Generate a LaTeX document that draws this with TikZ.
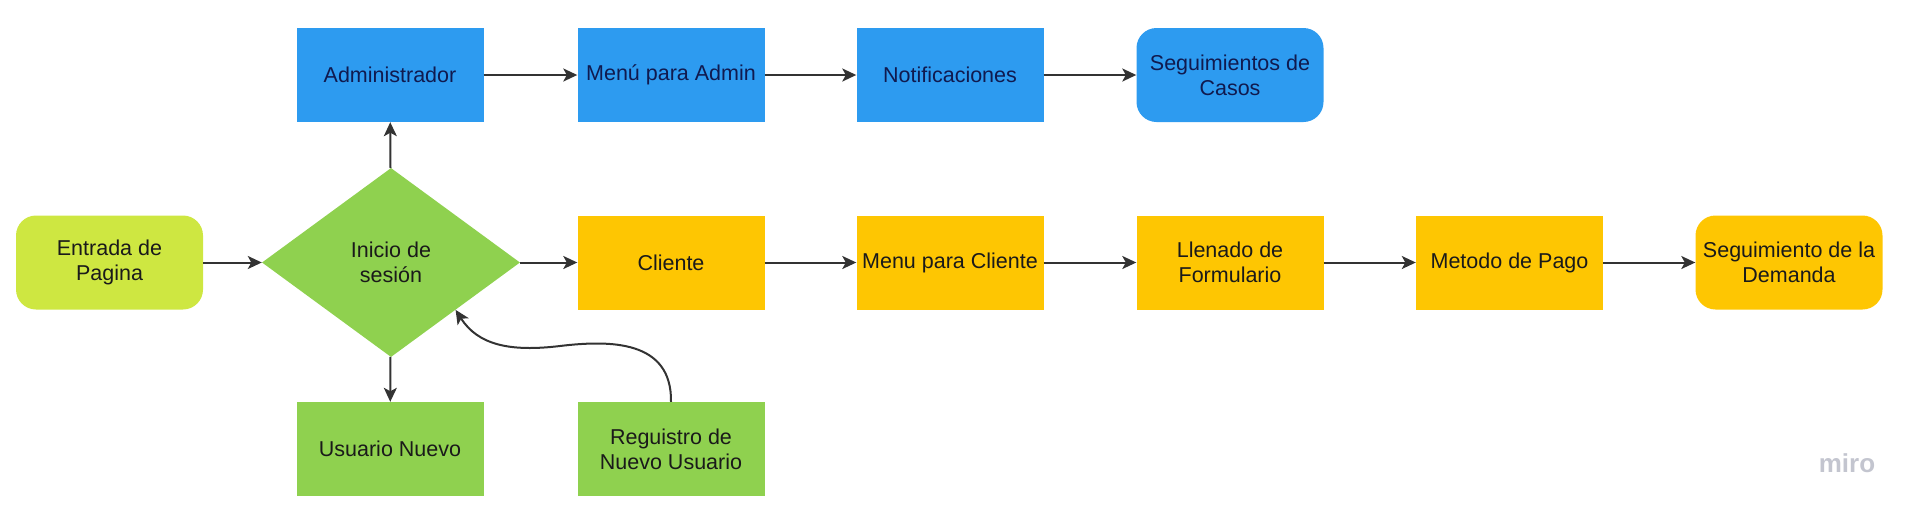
\documentclass[tikz,border=0pt]{standalone}
\usepackage{fontspec}
\setmainfont{Liberation Sans}
\usetikzlibrary{arrows.meta,shapes.geometric,calc}
\definecolor{mblue}{HTML}{2D9BF0}
\definecolor{myellow}{HTML}{FEC602}
\definecolor{mgreen}{HTML}{8FD14F}
\definecolor{mlime}{HTML}{CEE741}
\definecolor{navytxt}{HTML}{101A4F}
\definecolor{darktxt}{HTML}{1A1A1A}
\definecolor{conncol}{HTML}{333333}
\definecolor{mirogrey}{HTML}{C3C5CF}
\tikzset{
  box/.style={rectangle, minimum width=187pt, minimum height=94pt, inner sep=2pt,
    align=center, text=darktxt, font=\fontsize{21.5}{25}\selectfont},
  rbox/.style={box, rounded corners=20pt},
  bluebox/.style={box, fill=mblue, text=navytxt},
  dmd/.style={diamond, minimum width=258pt, minimum height=189pt, inner sep=0pt,
    align=center, text=darktxt, fill=mgreen, font=\fontsize{21.5}{25}\selectfont},
  conn/.style={draw=conncol, line width=2pt,
    -{Stealth[length=14pt, width=13pt, inset=3.5pt]}},
}
\begin{document}
\begin{tikzpicture}[x=1pt, y=-1pt]
\useasboundingbox (0,0) rectangle (1922,520);
% top row (admin)
\node[bluebox] (adm) at (390,75) {Administrador};
\node[bluebox] (madm) at (671,75) {Menú para Admin};
\node[bluebox] (notif) at (950,75) {Notificaciones};
\node[bluebox, rounded corners=20pt] (segc) at (1230,75) {Seguimientos de\\Casos};
% middle row
\node[rbox, fill=mlime] (ent) at (109.5,262.5) {Entrada de\\Pagina};
\node[dmd] (d) at (391,262.5) {Inicio de\\sesión};
\node[box, fill=myellow] (cli) at (671,262.5) {Cliente};
\node[box, fill=myellow] (mcli) at (950,262.5) {Menu para Cliente};
\node[box, fill=myellow] (llen) at (1230,262.5) {Llenado de\\Formulario};
\node[box, fill=myellow] (met) at (1509.5,262.5) {Metodo de Pago};
\node[rbox, fill=myellow] (segd) at (1789,262.5) {Seguimiento de la\\Demanda};
% bottom row
\node[box, fill=mgreen] (usu) at (390,449) {Usuario Nuevo};
\node[box, fill=mgreen] (reg) at (671,449) {Reguistro de\\Nuevo Usuario};
% watermark
\node[text=mirogrey, font=\fontsize{26}{30}\selectfont\bfseries] (miro) at (1847,463) {miro};
% connectors
\draw[conn] (ent) -- (d);
\draw[conn] (d) -- (cli);
\draw[conn] (d) -- (adm);
\draw[conn] (d) -- (usu);
\draw[conn] (adm) -- (madm);
\draw[conn] (madm) -- (notif);
\draw[conn] (notif) -- (segc);
\draw[conn] (cli) -- (mcli);
\draw[conn] (mcli) -- (llen);
\draw[conn] (llen) -- (met);
\draw[conn] (met) -- (segd);
\coordinate (dse) at ($(d.east)!0.5!(d.south)$);
\draw[conn] (reg.north) .. controls (672,340) and (610,340) .. (560,346)
  .. controls (510,352) and (478,345) .. (dse);
\end{tikzpicture}
\end{document}
